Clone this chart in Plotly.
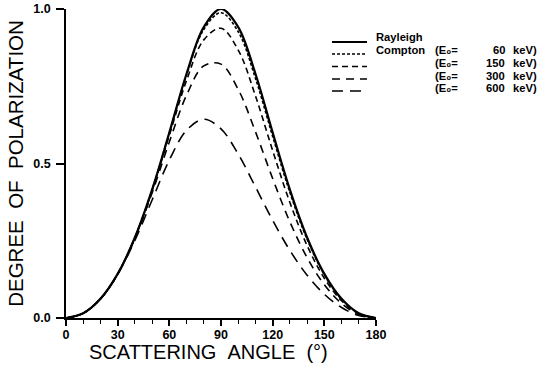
import plotly.graph_objects as go

# ---- data ----
angle = [0, 10, 20, 30, 40, 50, 60, 70, 80, 90, 100, 110, 120, 130, 140, 150, 160, 170, 180]
rayleigh = [0, 0.0153, 0.0621, 0.1429, 0.2604, 0.4152, 0.6000, 0.7905, 0.9415, 1.0000,
            0.9415, 0.7905, 0.6000, 0.4152, 0.2604, 0.1429, 0.0621, 0.0153, 0]
compton_60 = [0, 0.0153, 0.0621, 0.1428, 0.2603, 0.4148, 0.5984, 0.7866, 0.9337, 0.9878,
              0.9265, 0.7757, 0.5876, 0.4063, 0.2547, 0.1397, 0.0608, 0.0150, 0]
compton_150 = [0, 0.0153, 0.0621, 0.1427, 0.2597, 0.4123, 0.5911, 0.7690, 0.9001, 0.9376,
               0.8672, 0.7189, 0.5417, 0.3738, 0.2343, 0.1286, 0.0560, 0.0138, 0]
compton_300 = [0, 0.0153, 0.0621, 0.1424, 0.2577, 0.4048, 0.5697, 0.7211, 0.8160, 0.8216,
               0.7397, 0.6031, 0.4512, 0.3111, 0.1954, 0.1076, 0.0470, 0.0116, 0]
compton_600 = [0, 0.0153, 0.0620, 0.1411, 0.2510, 0.3818, 0.5112, 0.6075, 0.6432, 0.6120,
               0.5304, 0.4244, 0.3160, 0.2187, 0.1384, 0.0768, 0.0338, 0.0084, 0]

energies = ["60", "150", "300", "600"]
x_ticks = [0, 30, 60, 90, 120, 150, 180]
y_ticks = [0.0, 0.5, 1.0]
x_title = "SCATTERING\u00a0\u00a0ANGLE\u00a0\u00a0(°)"
y_title = "DEGREE\u00a0\u00a0OF\u00a0\u00a0POLARIZATION"

# ---- styles ----
W, H = 545, 365
ML, MR, MT, MB = 66, 169, 9, 47
FONT = "Liberation Sans, Arial, sans-serif"
series = [
    ("Rayleigh", rayleigh, "solid", 2.2),
    ("Compton 60 keV", compton_60, "3px,2px", 1.6),
    ("Compton 150 keV", compton_150, "6px,4px", 1.6),
    ("Compton 300 keV", compton_300, "8px,6px", 1.6),
    ("Compton 600 keV", compton_600, "11px,7px", 1.6),
]

fig = go.Figure()
for name, ys, dash, wid in series:
    fig.add_trace(go.Scatter(x=angle, y=ys, mode="lines", name=name,
                             line=dict(color="black", width=wid, dash=dash, shape="spline", smoothing=1.0),
                             showlegend=False))

pw = W - ML - MR
ph = H - MT - MB


def px_x(p):
    return (p - ML) / pw


def px_y(p):
    return (H - MB - p) / ph


# ---- custom legend (keys drawn as shapes, labels as text) ----
leg_x0, leg_x1 = 332, 367
row_line_y = [42, 54, 66.5, 79, 91]
row_text_y = [37.5, 50.2, 62.9, 75.6, 88.3]
shapes = []
for i, (name, ys, dash, wid) in enumerate(series):
    shapes.append(dict(type="line", xref="paper", yref="paper",
                       x0=px_x(leg_x0), x1=px_x(leg_x1),
                       y0=px_y(row_line_y[i]), y1=px_y(row_line_y[i]),
                       line=dict(color="black", width=wid, dash=dash)))

ann = []
lf = dict(family=FONT, size=11.2, color="black")


def label(text, x, y, anchor):
    return dict(text="<b>" + text + "</b>", x=px_x(x), y=px_y(y), xref="paper", yref="paper",
                xanchor=anchor, yanchor="middle", showarrow=False, font=lf, borderpad=0)


ann.append(label("Rayleigh", 375, row_text_y[0], "left"))
ann.append(label("Compton", 375, row_text_y[1], "left"))
for i, e in enumerate(energies):
    yy = row_text_y[i + 1]
    ann.append(label("(E\u2080=", 434, yy, "left"))
    ann.append(label(e, 506, yy, "right"))
    ann.append(label("keV)", 512, yy, "left"))

# x-axis title (placed as in the reference, left of the plot centre)
ann.append(dict(text=x_title, x=px_x(208.5), y=px_y(351.5), xref="paper", yref="paper",
                xanchor="center", yanchor="middle", showarrow=False, borderpad=0,
                font=dict(family=FONT, size=20, color="black")))

fig.update_layout(
    width=W, height=H,
    margin=dict(l=ML, r=MR, t=MT, b=MB, autoexpand=False),
    paper_bgcolor="white", plot_bgcolor="white",
    font=dict(family=FONT, color="black"),
    shapes=shapes, annotations=ann,
    xaxis=dict(range=[0, 180], tickvals=x_ticks, ticktext=["<b>%d</b>" % v for v in x_ticks],
               showgrid=False, zeroline=False, showline=True, linecolor="black", linewidth=1.5,
               ticks="outside", ticklen=6, tickwidth=1.5, tickcolor="black", automargin=False,
               ticklabelstandoff=-2,
               minor=dict(dtick=10, ticks="outside", ticklen=4, tickwidth=1.2, tickcolor="black", showgrid=False),
               tickfont=dict(family=FONT, size=12.5)),
    yaxis=dict(range=[0, 1], tickvals=y_ticks, ticktext=["<b>%.1f</b>" % v for v in y_ticks],
               showgrid=False, zeroline=False, showline=True, linecolor="black", linewidth=1.5,
               ticks="outside", ticklen=8, tickwidth=1.5, tickcolor="black", automargin=False,
               ticklabelstandoff=3,
               tickfont=dict(family=FONT, size=12.5),
               title=dict(text=y_title, font=dict(family=FONT, size=20.5), standoff=4)),
)

fig.write_html("out.html")
